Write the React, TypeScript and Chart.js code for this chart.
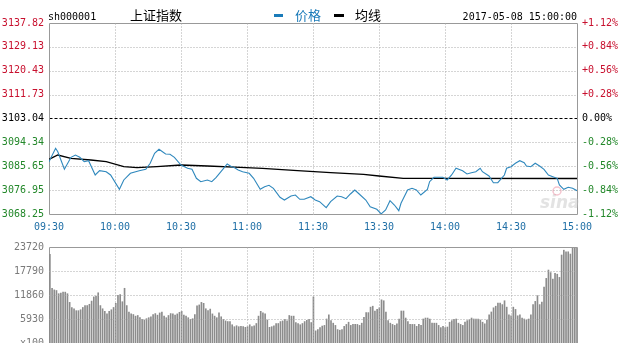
import React, { useEffect, useRef } from "react";
import { Chart, registerables } from "chart.js";

Chart.register(...registerables);

// ---------- data ----------
const timeTicks = [0, 30, 60, 90, 120, 150, 180, 210, 240];
const timeLabels = ["09:30", "10:00", "10:30", "11:00", "11:30", "13:30", "14:00", "14:30", "15:00"];

const priceTicks = [3068.25, 3076.95, 3085.65, 3094.34, 3103.04, 3111.73, 3120.43, 3129.13, 3137.82];
const priceLabels = ["3068.25", "3076.95", "3085.65", "3094.34", "3103.04", "3111.73", "3120.43", "3129.13", "3137.82"];
const pctLabels = ["-1.12%", "-0.84%", "-0.56%", "-0.28%", "0.00%", "+0.28%", "+0.56%", "+0.84%", "+1.12%"];

const priceMinutes = [
  0, 3, 4, 7, 10, 12, 14, 16, 18, 21, 23, 26, 28, 32, 34, 37, 41, 44, 46, 48,
  50, 53, 55, 57, 60, 63, 65, 67, 69, 72, 74, 76, 79, 81, 83, 84, 86, 88, 91, 93,
  96, 98, 100, 102, 105, 107, 110, 112, 114, 116, 119, 121, 123, 126, 128, 131, 133, 135, 137, 139,
  141, 144, 146, 149, 151, 153, 155, 157, 159, 160, 163, 165, 167, 169, 172, 173, 175, 177, 179, 181,
  183, 185, 188, 190, 192, 194, 196, 197, 200, 202, 204, 207, 208, 210, 212, 214, 216, 217, 219, 221,
  223, 225, 227, 229, 231, 232, 234, 236, 238, 240,
];
const priceValues = [
  3087.30, 3092.18, 3090.94, 3084.53, 3088.90, 3089.74, 3088.90, 3087.30, 3087.67, 3082.46,
  3084.02, 3083.66, 3082.46, 3077.25, 3080.64, 3083.08, 3084.02, 3084.53, 3086.72, 3090.36,
  3091.82, 3090.11, 3090.00, 3088.90, 3086.10, 3084.90, 3084.53, 3081.25, 3080.02, 3080.64,
  3080.02, 3081.62, 3084.53, 3086.46, 3085.48, 3085.26, 3084.28, 3083.66, 3083.08, 3081.25,
  3077.25, 3078.19, 3078.70, 3077.61, 3074.33, 3073.35, 3074.81, 3075.17, 3073.61, 3073.61,
  3074.55, 3073.35, 3072.73, 3070.55, 3072.73, 3074.81, 3074.55, 3073.82, 3075.54, 3076.99,
  3075.54, 3073.35, 3070.91, 3069.96, 3068.30, 3069.71, 3073.10, 3071.53, 3069.45, 3072.15,
  3076.99, 3077.61, 3076.99, 3075.17, 3077.20, 3080.02, 3081.62, 3081.62, 3081.62, 3080.64,
  3082.46, 3084.90, 3084.02, 3082.82, 3083.29, 3083.66, 3084.90, 3083.66, 3082.09, 3079.65,
  3079.65, 3082.46, 3084.90, 3085.48, 3086.72, 3087.67, 3086.94, 3085.73, 3085.48, 3086.72,
  3085.73, 3084.53, 3082.46, 3081.84, 3081.25, 3078.81, 3077.25, 3077.98, 3077.61, 3076.74,
];

const avgMinutes = [0, 4, 10, 19, 26, 34, 40, 49, 60, 72, 87, 97, 113, 128, 143, 150, 161, 173, 240];
const avgValues = [
  3088.17, 3089.74, 3088.54, 3087.92, 3087.30, 3085.48, 3085.12, 3085.48, 3086.10, 3085.73,
  3085.26, 3084.90, 3084.02, 3083.29, 3082.71, 3082.09, 3081.25, 3081.25, 3081.18,
];

const volumeMorning = [
  21900, 13520, 13120, 12970, 12180, 12330, 12570, 12570, 12180, 10040,
  8780, 8460, 7990, 7990, 8220, 8780, 9250, 9250, 9570, 10360,
  11390, 11620, 12410, 9250, 8460, 7830, 7190, 7830, 8220, 8780,
  9800, 11780, 11940, 10200, 13520, 9250, 7670, 7190, 7040, 6640,
  6800, 6250, 5850, 5690, 6010, 6250, 6480, 7040, 7270, 6880,
  7430, 7670, 6640, 6250, 6800, 7270, 7190, 6880, 7190, 7590,
  7830, 6880, 6640, 6250, 5850, 6010, 7040, 9170, 9410, 10040,
  9800, 8460, 7990, 8380, 7190, 6640, 6250, 7430, 6480, 5850,
  5460, 5300, 5300, 4510, 4030, 4270, 4030, 4110, 4030, 3870,
  4030, 4510, 4030, 4270, 4820, 6640, 7830, 7430, 7190, 5690,
  3870, 4030, 4270, 4820, 4820, 5300, 5460, 5850, 5460, 6800,
  6640, 6640, 5060, 4820, 4510, 4820, 5300, 5610, 5850, 5060,
  11390,
];
const volumeAfternoon = [
  3000, 3320, 3800, 4190, 4350, 5930, 6960, 5530, 4900, 4350,
  3320, 3160, 3320, 4110, 4590, 5140, 4350, 4590, 4590, 4590,
  4350, 4900, 6330, 7510, 7510, 8860, 9090, 7910, 8300, 8700,
  10670, 10440, 7670, 5530, 4900, 4590, 4350, 4740, 5930, 7910,
  7910, 6170, 5300, 4590, 4590, 4590, 4110, 4590, 4350, 5930,
  6170, 6170, 5930, 4900, 4900, 4900, 4350, 3800, 4110, 3800,
  3950, 5140, 5530, 5850, 5930, 4900, 4590, 4350, 5140, 5530,
  5770, 6170, 5930, 5930, 5930, 5690, 5140, 4740, 5690, 6960,
  7670, 8700, 9090, 9880, 9880, 9490, 10440, 8860, 6960, 6720,
  8860, 8300, 6720, 6960, 6170, 5930, 5690, 5930, 6960, 9490,
  10280, 11700, 9490, 10120, 13840, 15970, 18030, 17400, 15810, 17240,
  17000, 16210, 21740, 22930, 22540, 22540, 21980, 23560, 23720, 23720,
];
const volumeValues = [...volumeMorning, ...volumeAfternoon];

const volTicks = [0, 5930, 11860, 17790, 23720];
const volLabels = ["x100", "5930", "11860", "17790", "23720"];

// ---------- styles ----------
const MONO = "'DejaVu Sans Mono', monospace";
const CJK = "'Noto Sans CJK SC', sans-serif";
const RED = "#c8102e";
const GREEN = "#23882a";
const BLUE_TXT = "#1f6fa6";
const PRICE_BLUE = "#2f88bd";
const GRID = "#aaaaaa";
const FRAME = "#999999";
const TOTAL_MIN = 240;

function hline(ctx: CanvasRenderingContext2D, x1: number, x2: number, y: number) {
  ctx.beginPath();
  ctx.moveTo(x1, y);
  ctx.lineTo(x2, y);
  ctx.stroke();
}
function vline(ctx: CanvasRenderingContext2D, x: number, y1: number, y2: number) {
  ctx.beginPath();
  ctx.moveTo(x, y1);
  ctx.lineTo(x, y2);
  ctx.stroke();
}

const priceGridPlugin = {
  id: "priceGrid",
  beforeDatasetsDraw(chart: any) {
    const { ctx, chartArea: a, scales } = chart;
    const xs = scales.x;
    const ys = scales.y;
    ctx.save();
    ctx.lineWidth = 1;
    const top = Math.round(a.top) + 0.5;
    const bottom = Math.round(a.bottom) + 0.5;
    const left = Math.round(a.left) + 0.5;
    const right = Math.round(a.right) + 0.5;
    priceTicks.forEach((v, i) => {
      const py = Math.round(ys.getPixelForValue(v)) + 0.5;
      if (i === 0 || i === priceTicks.length - 1) {
        ctx.setLineDash([]);
        ctx.strokeStyle = FRAME;
      } else if (i === 4) {
        ctx.setLineDash([3, 2]);
        ctx.strokeStyle = "#000";
      } else {
        ctx.setLineDash([1, 2]);
        ctx.strokeStyle = GRID;
      }
      hline(ctx, left, right, py);
    });
    timeTicks.forEach((m, i) => {
      const px = Math.round(xs.getPixelForValue(m)) + 0.5;
      if (i === 0 || i === timeTicks.length - 1) {
        ctx.setLineDash([]);
        ctx.strokeStyle = FRAME;
      } else {
        ctx.setLineDash([1, 2]);
        ctx.strokeStyle = GRID;
      }
      vline(ctx, px, top, bottom);
    });
    // sina watermark
    ctx.setLineDash([]);
    ctx.font = `italic bold 17px 'DejaVu Sans', sans-serif`;
    ctx.fillStyle = "rgba(200,200,200,0.5)";
    ctx.textAlign = "left";
    ctx.textBaseline = "alphabetic";
    ctx.fillText("sina", 540, 208);
    ctx.strokeStyle = "rgba(235,140,160,0.5)";
    ctx.lineWidth = 1.5;
    ctx.beginPath();
    ctx.arc(557, 191, 4, 0, Math.PI * 2);
    ctx.stroke();
    ctx.restore();
  },
  afterDraw(chart: any) {
    const { ctx } = chart;
    ctx.save();
    ctx.textAlign = "left";
    ctx.textBaseline = "alphabetic";
    ctx.fillStyle = "#000";
    ctx.font = `10px ${MONO}`;
    ctx.fillText("sh000001", 48, 20);
    ctx.font = `13px ${CJK}`;
    ctx.fillText("上证指数", 130, 19.5);
    // legend
    ctx.fillStyle = "#1a7bb9";
    ctx.fillRect(274, 14, 9, 3);
    ctx.fillText("价格", 295, 19.5);
    ctx.fillStyle = "#000";
    ctx.fillRect(334, 14, 10, 3);
    ctx.fillText("均线", 355, 19.5);
    ctx.font = `10px ${MONO}`;
    ctx.textAlign = "right";
    ctx.fillText("2017-05-08 15:00:00", 577, 20);
    ctx.restore();
  },
};

// grid of the volume panel is placed by fraction of the session (0..240 min) across the chart area
function volGridX(a: any, m: number) {
  return Math.round(a.left + ((a.right - a.left) * m) / TOTAL_MIN) + 0.5;
}

const volGridPlugin = {
  id: "volGrid",
  beforeDatasetsDraw(chart: any) {
    const { ctx, chartArea: a } = chart;
    ctx.save();
    ctx.lineWidth = 1;
    ctx.setLineDash([]);
    ctx.strokeStyle = FRAME;
    const top = Math.round(a.top) + 0.5;
    const bottom = Math.round(a.bottom) + 0.5;
    [timeTicks[0], timeTicks[timeTicks.length - 1]].forEach((m) => {
      vline(ctx, volGridX(a, m), top, bottom);
    });
    ctx.restore();
  },
  afterDatasetsDraw(chart: any) {
    const { ctx, chartArea: a, scales } = chart;
    const ys = scales.y;
    ctx.save();
    ctx.lineWidth = 1;
    const top = Math.round(a.top) + 0.5;
    const bottom = Math.round(a.bottom) + 0.5;
    const left = Math.round(a.left) + 0.5;
    const right = Math.round(a.right) + 0.5;
    volTicks.forEach((v, i) => {
      if (i === 0) return;
      const py = Math.round(ys.getPixelForValue(v)) + 0.5;
      if (i === volTicks.length - 1) {
        ctx.setLineDash([]);
        ctx.strokeStyle = FRAME;
      } else {
        ctx.setLineDash([1, 2]);
        ctx.strokeStyle = GRID;
      }
      hline(ctx, left, right, py);
    });
    timeTicks.forEach((m, i) => {
      if (i === 0 || i === timeTicks.length - 1) return;
      ctx.setLineDash([1, 2]);
      ctx.strokeStyle = GRID;
      vline(ctx, volGridX(a, m), top, bottom);
    });
    ctx.restore();
  },
};

function priceTickColor(ctx: any) {
  const i = ctx.index;
  if (i < 4) return GREEN;
  if (i === 4) return "#000";
  return RED;
}

export default function App() {
  const priceRef = useRef<HTMLCanvasElement | null>(null);
  const volRef = useRef<HTMLCanvasElement | null>(null);

  useEffect(() => {
    if (!priceRef.current || !volRef.current) return;
    const priceChart = new Chart(priceRef.current, {
      type: "line",
      data: {
        datasets: [
          {
            label: "价格",
            data: priceMinutes.map((m, i) => ({ x: m, y: priceValues[i] })),
            borderColor: PRICE_BLUE,
            borderWidth: 1.1,
            pointRadius: 0,
            tension: 0,
            order: 1,
          },
          {
            label: "均线",
            data: avgMinutes.map((m, i) => ({ x: m, y: avgValues[i] })),
            borderColor: "#000",
            borderWidth: 1.3,
            pointRadius: 0,
            tension: 0,
            order: 2,
          },
        ],
      },
      options: {
        animation: false,
        responsive: false,
        events: [],
        layout: { padding: { top: 23, bottom: 0, left: 0, right: 0 } },
        plugins: { legend: { display: false }, tooltip: { enabled: false }, title: { display: false } },
        scales: {
          x: {
            type: "linear",
            min: 0,
            max: TOTAL_MIN,
            grid: { display: false, drawTicks: false },
            border: { display: false },
            afterBuildTicks: (s: any) => {
              s.ticks = timeTicks.map((v) => ({ value: v }));
            },
            afterFit: (s: any) => {
              s.height = 22;
            },
            ticks: {
              autoSkip: false,
              maxRotation: 0,
              padding: 7,
              color: BLUE_TXT,
              font: { family: MONO, size: 10 },
              callback: (_v: any, i: number) => timeLabels[i],
            },
          },
          y: {
            type: "linear",
            position: "left",
            min: priceTicks[0],
            max: priceTicks[priceTicks.length - 1],
            grid: { display: false, drawTicks: false },
            border: { display: false },
            afterBuildTicks: (s: any) => {
              s.ticks = priceTicks.map((v) => ({ value: v }));
            },
            afterFit: (s: any) => {
              s.width = 49;
            },
            ticks: {
              autoSkip: false,
              padding: 5,
              color: priceTickColor,
              font: { family: MONO, size: 10 },
              callback: (_v: any, i: number) => priceLabels[i],
            },
          },
          y2: {
            type: "linear",
            position: "right",
            min: priceTicks[0],
            max: priceTicks[priceTicks.length - 1],
            grid: { display: false, drawTicks: false },
            border: { display: false },
            afterBuildTicks: (s: any) => {
              s.ticks = priceTicks.map((v) => ({ value: v }));
            },
            afterFit: (s: any) => {
              s.width = 47;
            },
            ticks: {
              autoSkip: false,
              padding: 5,
              color: priceTickColor,
              font: { family: MONO, size: 10 },
              callback: (_v: any, i: number) => pctLabels[i],
            },
          },
        },
      },
      plugins: [priceGridPlugin],
    } as any);

    const volChart = new Chart(volRef.current, {
      type: "bar",
      data: {
        datasets: [
          {
            label: "成交量",
            data: volumeValues.map((v, i) => ({ x: i, y: v })),
            backgroundColor: "#8c8c8c",
            borderWidth: 0,
            barThickness: 1,
          },
        ],
      },
      options: {
        animation: false,
        responsive: false,
        events: [],
        layout: { padding: { top: 7, bottom: 13, left: 0, right: 47 } },
        plugins: { legend: { display: false }, tooltip: { enabled: false } },
        scales: {
          x: {
            type: "linear",
            min: -0.4,
            max: TOTAL_MIN,
            display: false,
            offset: false,
          },
          y: {
            type: "linear",
            position: "left",
            min: 0,
            max: volTicks[volTicks.length - 1],
            grid: { display: false, drawTicks: false },
            border: { display: false },
            afterBuildTicks: (s: any) => {
              s.ticks = volTicks.map((v) => ({ value: v }));
            },
            afterFit: (s: any) => {
              s.width = 49;
            },
            ticks: {
              autoSkip: false,
              padding: 5,
              color: "#7a7a7a",
              font: { family: MONO, size: 10 },
              callback: (_v: any, i: number) => volLabels[i],
            },
          },
        },
      },
      plugins: [volGridPlugin],
    } as any);

    return () => {
      priceChart.destroy();
      volChart.destroy();
    };
  }, []);

  return (
    <div
      style={{
        position: "fixed",
        left: 0,
        top: 0,
        width: 624,
        height: 343,
        overflow: "hidden",
        background: "#fff",
      }}
    >
      <canvas
        ref={priceRef}
        width={624}
        height={236}
        style={{ position: "absolute", left: 0, top: 0, width: 624, height: 236, display: "block" }}
      />
      <canvas
        ref={volRef}
        width={624}
        height={120}
        style={{ position: "absolute", left: 0, top: 236, width: 624, height: 120, display: "block" }}
      />
    </div>
  );
}
